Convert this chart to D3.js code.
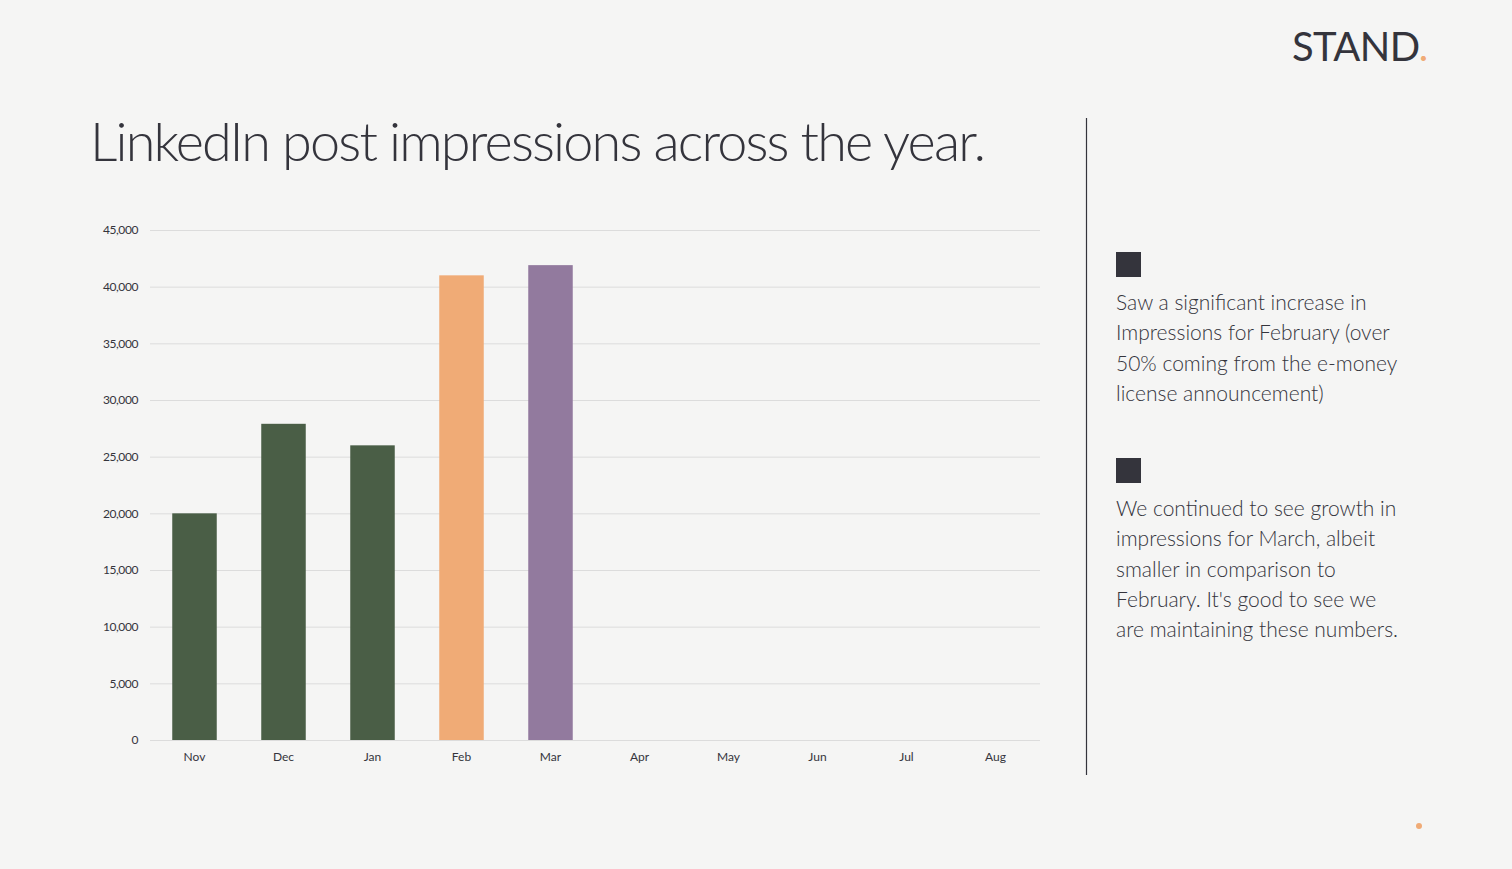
<!DOCTYPE html>
<html>
<head>
<meta charset="utf-8">
<script src="https://cdn.jsdelivr.net/npm/d3@7"></script>
<style>
  html, body { margin: 0; padding: 0; background: #f5f5f4; }
  svg { display: block; font-family: Lato, 'Noto Sans', sans-serif; }
</style>
</head>
<body>
<script>
const width = 1512
const height = 869

const months = ['Nov', 'Dec', 'Jan', 'Feb', 'Mar', 'Apr', 'May', 'Jun', 'Jul', 'Aug']
const impressions = [20000, 27900, 26000, 41000, 41900]
const barColors = ['#4a5e46', '#4a5e46', '#4a5e46', '#f0ab76', '#927a9e']
const yTicks = [0, 5000, 10000, 15000, 20000, 25000, 30000, 35000, 40000, 45000]
const notes = [
  ['Saw a significant increase in', 'Impressions for February (over', '50% coming from the e-money', 'license announcement)'],
  ['We continued to see growth in', 'impressions for March, albeit', 'smaller in comparison to', 'February. It\'s good to see we', 'are maintaining these numbers.']
]

const plot = { left: 150, right: 1040, top: 230, bottom: 740 }
const ink = '#34343c'
const font = 'Lato, "Noto Sans", sans-serif'

const svg = d3.select('body').append('svg')
  .attr('width', width)
  .attr('height', height)

svg.append('rect')
  .attr('width', width)
  .attr('height', height)
  .attr('fill', '#f5f5f4')

// logo
const logo = svg.append('text')
  .attr('x', 1292)
  .attr('y', 61)
  .attr('font-size', 40)
  .attr('font-weight', 400)
  .attr('letter-spacing', -0.6)
  .attr('fill', ink)
logo.append('tspan').text('STAND')
logo.append('tspan').attr('fill', '#f0ab76').text('.')

svg.append('circle')
  .attr('cx', 1419)
  .attr('cy', 826)
  .attr('r', 3)
  .attr('fill', '#f0ab76')

svg.append('text')
  .attr('x', 90)
  .attr('y', 161)
  .attr('font-size', 54)
  .attr('font-weight', 300)
  .attr('fill', ink)
  .attr('textLength', 896)
  .text('LinkedIn post impressions across the year.')

const x = d3.scaleBand()
  .domain(months)
  .range([plot.left, plot.right])
  .paddingInner(0.5)
  .paddingOuter(0.25)

const y = d3.scaleLinear()
  .domain([0, 45000])
  .range([plot.bottom, plot.top])

const yAxis = svg.append('g')
  .attr('transform', `translate(${plot.left},0)`)
  .call(d3.axisLeft(y)
    .tickValues(yTicks)
    .tickSize(-(plot.right - plot.left))
    .tickPadding(12)
    .tickFormat(d3.format(',')))
  .attr('font-family', font)
yAxis.select('.domain').remove()
yAxis.selectAll('.tick line').attr('stroke', '#dcdcdc')
yAxis.selectAll('.tick text')
  .attr('fill', ink)
  .attr('font-size', 12)
  .attr('letter-spacing', -0.4)

const xAxis = svg.append('g')
  .attr('transform', `translate(0,${plot.bottom})`)
  .call(d3.axisBottom(x).tickSize(0).tickPadding(12))
  .attr('font-family', font)
xAxis.select('.domain').remove()
xAxis.selectAll('.tick text')
  .attr('fill', ink)
  .attr('font-size', 12)

svg.append('g')
  .selectAll('rect')
  .data(impressions)
  .join('rect')
  .attr('x', (d, i) => x(months[i]))
  .attr('y', d => y(d))
  .attr('width', x.bandwidth())
  .attr('height', d => y(0) - y(d))
  .attr('fill', (d, i) => barColors[i])

// divider
svg.append('line')
  .attr('x1', 1086.5).attr('x2', 1086.5)
  .attr('y1', 118).attr('y2', 775)
  .attr('stroke', ink)
  .attr('stroke-width', 1.2)

const noteTops = [252, 458]
notes.forEach((lines, i) => {
  const g = svg.append('g').attr('transform', `translate(1116,${noteTops[i]})`)
  g.append('rect')
    .attr('width', 25)
    .attr('height', 25)
    .attr('fill', ink)
  g.append('text')
    .attr('font-size', 21)
    .attr('font-weight', 300)
    .attr('fill', ink)
    .selectAll('tspan')
    .data(lines)
    .join('tspan')
    .attr('x', 0)
    .attr('y', (d, j) => 58 + j * 30.3)
    .text(d => d)
})
</script>
</body>
</html>
